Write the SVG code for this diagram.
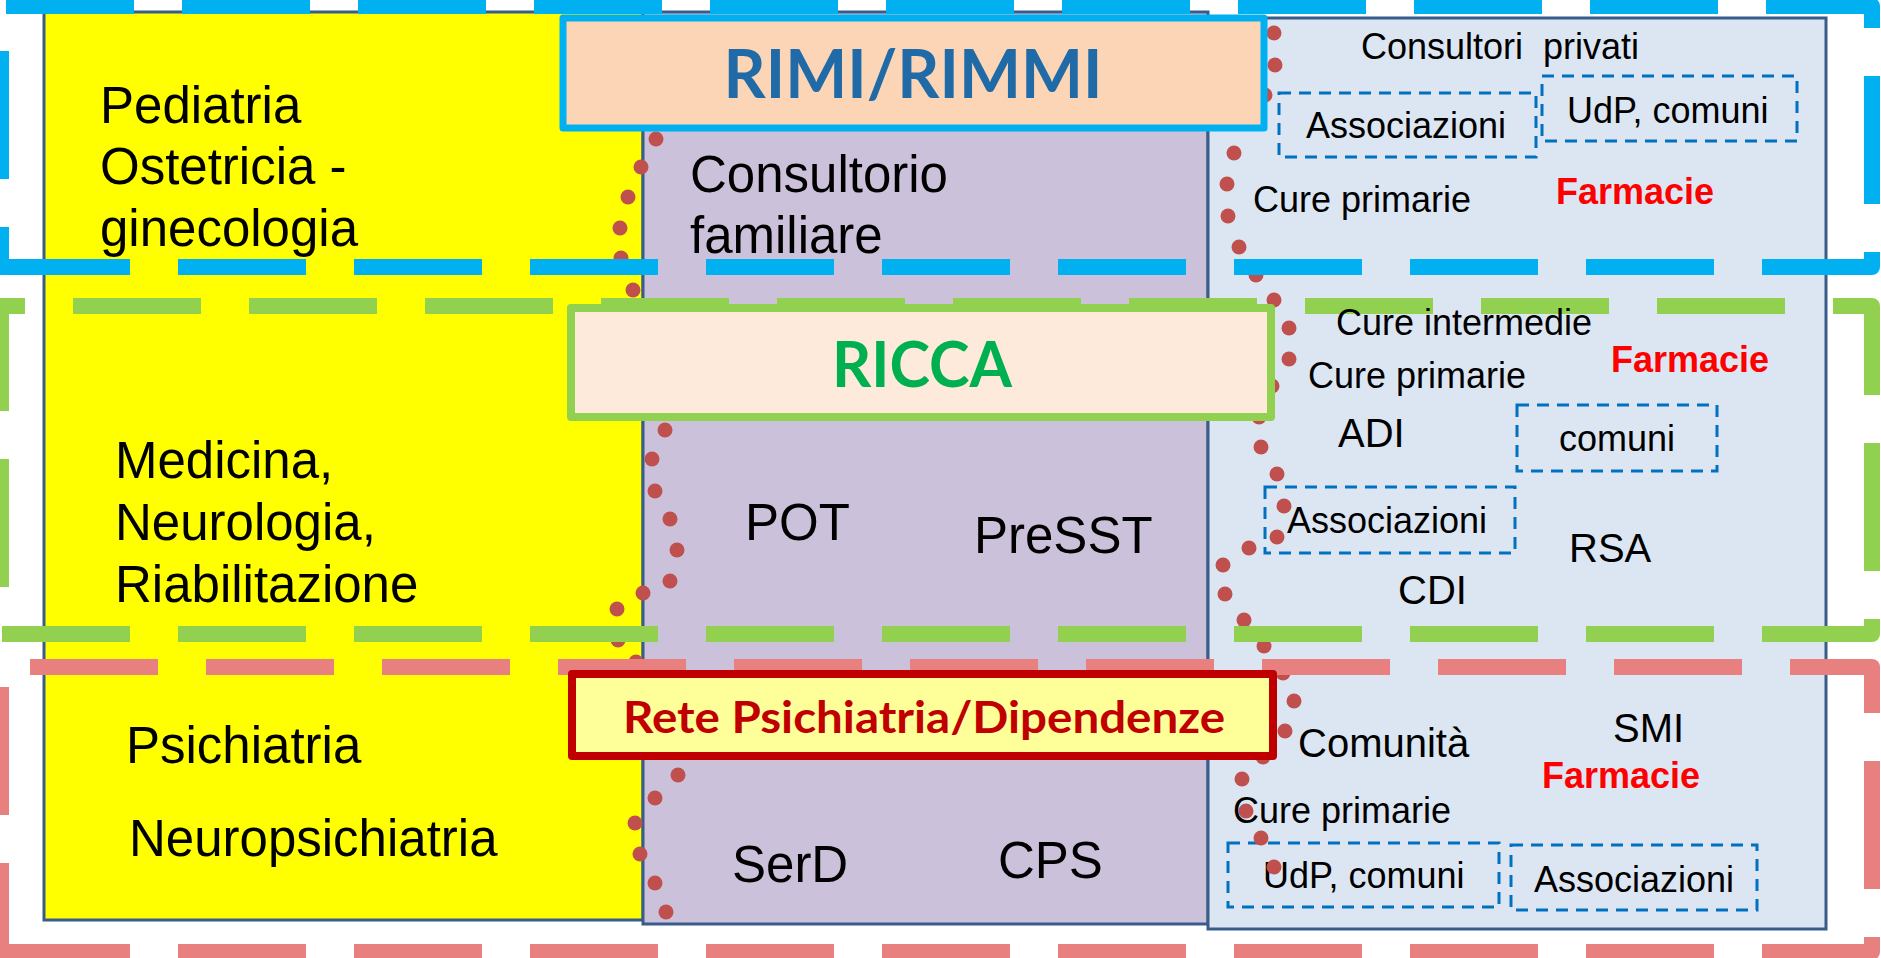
<svg xmlns="http://www.w3.org/2000/svg" width="1881" height="958" viewBox="0 0 1881 958">
<style>
.t{font-family:"Liberation Sans",Arial,sans-serif;fill:#000}
.b{font-size:51px}
.s{font-size:36px}
.m{font-size:40px}
.f{font-family:"Liberation Sans",Arial,sans-serif;font-weight:bold;font-size:36px;fill:#FF0000}
.ttl{font-family:Lato,"Open Sans",sans-serif;font-weight:bold;text-anchor:middle}
.col{stroke:#385D8A;stroke-width:3}
.dbox{fill:none;stroke:#0070C0;stroke-width:3;stroke-dasharray:12 8}
.dot{fill:#C0504D}
.ld{fill:none;stroke-width:16;stroke-dasharray:128 48}
.blue{stroke:#00B0F0}
.green{stroke:#92D050}
.pink{stroke:#E8807F}
</style>
<rect width="1881" height="958" fill="#FFFFFF"/>

<g id="col-ospedale">
<rect class="col" x="44" y="12" width="599" height="908" fill="#FFFF00"/>
<text class="t b" x="100" y="123">Pediatria</text>
<text class="t b" x="100" y="184">Ostetricia -</text>
<text class="t b" x="100" y="246">ginecologia</text>
<text class="t b" x="115" y="478">Medicina,</text>
<text class="t b" x="115" y="540">Neurologia,</text>
<text class="t b" x="115" y="602">Riabilitazione</text>
<text class="t b" x="126" y="763">Psichiatria</text>
<text class="t b" x="129" y="856">Neuropsichiatria</text>
</g>

<g id="col-territorio">
<rect class="col" x="643" y="12" width="565" height="912" fill="#CCC1DA"/>
<text class="t b" x="690" y="192">Consultorio</text>
<text class="t b" x="690" y="253">familiare</text>
<text class="t b" x="745" y="540">POT</text>
<text class="t b" x="974" y="553">PreSST</text>
<text class="t b" x="732" y="882">SerD</text>
<text class="t b" x="998" y="878">CPS</text>
</g>

<g id="col-rete-sociale">
<rect class="col" x="1208" y="18" width="618" height="911" fill="#DCE6F2"/>
<text class="t s" x="1361" y="59" xml:space="preserve">Consultori  privati</text>
<text class="t s" x="1253" y="212">Cure primarie</text>
<text class="f" x="1556" y="204">Farmacie</text>
<text class="t s" x="1308" y="388">Cure primarie</text>
<text class="f" x="1611" y="372">Farmacie</text>
<text class="t m" x="1338" y="447">ADI</text>
<text class="t m" x="1569" y="562">RSA</text>
<text class="t m" x="1398" y="604">CDI</text>
<text class="t m" x="1298" y="757">Comunità</text>
<text class="t m" x="1613" y="742">SMI</text>
<text class="f" x="1542" y="788">Farmacie</text>
<text class="t s" x="1233" y="823">Cure primarie</text>
</g>

<g id="box-associazioni-1">
<rect class="dbox" x="1279" y="93" width="257" height="64"/>
<text class="t s" x="1306" y="138">Associazioni</text>
</g>
<g id="box-udp-1">
<rect class="dbox" x="1542" y="76" width="255" height="65"/>
<text class="t s" x="1567" y="123">UdP, comuni</text>
</g>
<g id="box-comuni-2">
<rect class="dbox" x="1517" y="405" width="200" height="66"/>
<text class="t s" x="1559" y="451">comuni</text>
</g>
<g id="box-associazioni-2">
<rect class="dbox" x="1265" y="487" width="250" height="66"/>
<text class="t s" x="1287" y="533">Associazioni</text>
</g>
<g id="box-udp-3">
<rect class="dbox" x="1228" y="843" width="271" height="64"/>
<text class="t s" x="1263" y="888">UdP, comuni</text>
</g>
<g id="box-associazioni-3">
<rect class="dbox" x="1511" y="845" width="246" height="65"/>
<text class="t s" x="1534" y="892">Associazioni</text>
</g>

<g id="connectors">
<g id="dotted-left" class="dot">
<circle cx="656" cy="139" r="7.5"/><circle cx="641" cy="167" r="7.5"/><circle cx="628" cy="197" r="7.5"/><circle cx="620" cy="228" r="7.5"/><circle cx="621" cy="258" r="7.5"/><circle cx="633" cy="290" r="7.5"/>
<circle cx="665" cy="430" r="7.5"/><circle cx="652" cy="459" r="7.5"/><circle cx="655" cy="491" r="7.5"/><circle cx="670" cy="519" r="7.5"/><circle cx="677" cy="550" r="7.5"/><circle cx="670" cy="581" r="7.5"/><circle cx="643" cy="593" r="7.5"/><circle cx="617" cy="609" r="7.5"/><circle cx="618" cy="640" r="7.5"/><circle cx="636" cy="662" r="7.5"/>
<circle cx="678" cy="775" r="7.5"/><circle cx="655" cy="798" r="7.5"/><circle cx="635" cy="823" r="7.5"/><circle cx="640" cy="854" r="7.5"/><circle cx="655" cy="883" r="7.5"/><circle cx="666" cy="912" r="7.5"/>
</g>
<g id="dotted-right" class="dot">
<circle cx="1274" cy="33" r="7.5"/><circle cx="1275" cy="65" r="7.5"/><circle cx="1265" cy="95" r="7.5"/><circle cx="1234" cy="153" r="7.5"/><circle cx="1227" cy="184" r="7.5"/><circle cx="1228" cy="216" r="7.5"/><circle cx="1239" cy="247" r="7.5"/><circle cx="1256" cy="275" r="7.5"/><circle cx="1274" cy="300" r="7.5"/><circle cx="1289" cy="328" r="7.5"/><circle cx="1289" cy="359" r="7.5"/><circle cx="1272" cy="386" r="7.5"/><circle cx="1259" cy="417" r="7.5"/><circle cx="1261" cy="447" r="7.5"/><circle cx="1277" cy="474" r="7.5"/><circle cx="1284" cy="506" r="7.5"/><circle cx="1277" cy="537" r="7.5"/><circle cx="1249" cy="548" r="7.5"/><circle cx="1223" cy="565" r="7.5"/><circle cx="1225" cy="594" r="7.5"/><circle cx="1244" cy="620" r="7.5"/><circle cx="1264" cy="646" r="7.5"/><circle cx="1283" cy="673" r="7.5"/><circle cx="1294" cy="701" r="7.5"/><circle cx="1285" cy="731" r="7.5"/><circle cx="1263" cy="757" r="7.5"/><circle cx="1242" cy="779" r="7.5"/><circle cx="1246" cy="811" r="7.5"/><circle cx="1261" cy="838" r="7.5"/><circle cx="1274" cy="867" r="7.5"/>
</g>
</g>

<g id="region-rimi">
<path class="ld blue" d="M6 6H1872"/>
<path class="ld blue" d="M1872 6V267" stroke-dashoffset="106"/>
<path class="ld blue" d="M2 267H1872"/>
<path class="ld blue" d="M1 267V6" stroke-dashoffset="88"/>
<circle cx="1872" cy="6" r="8" fill="#00B0F0"/>
<circle cx="1872" cy="267" r="8" fill="#00B0F0"/>
<circle cx="1" cy="267" r="8" fill="#00B0F0"/>
</g>

<g id="region-ricca">
<path class="ld green" d="M1 306H1872" stroke-dashoffset="104"/>
<path class="ld green" d="M1872 306V634" stroke-dashoffset="39"/>
<path class="ld green" d="M2 634H1872"/>
<path class="ld green" d="M1 634V306" stroke-dashoffset="129"/>
<circle cx="1" cy="306" r="8" fill="#92D050"/>
<circle cx="1872" cy="306" r="8" fill="#92D050"/>
<circle cx="1872" cy="634" r="8" fill="#92D050"/>
</g>

<g id="region-psichiatria">
<path class="ld pink" d="M1 667H1872" stroke-dashoffset="147"/>
<path class="ld pink" d="M1872 667V952" stroke-dashoffset="82"/>
<path class="ld pink" d="M2 952H1872"/>
<path class="ld pink" d="M1 952V667" stroke-dashoffset="39"/>
<circle cx="1872" cy="667" r="8" fill="#E8807F"/>
<circle cx="1872" cy="952" r="8" fill="#E8807F"/>
<circle cx="1" cy="952" r="8" fill="#E8807F"/>
</g>

<g id="label-cure-intermedie">
<text class="t s" x="1336" y="335">Cure intermedie</text>
</g>

<g id="title-rimi">
<rect x="563" y="18" width="701" height="110" fill="#FBD5B5" stroke="#00B0F0" stroke-width="7" stroke-linejoin="round"/>
<text class="ttl" x="913" y="98" font-size="67" fill="#1F6AA7" textLength="379" lengthAdjust="spacingAndGlyphs">RIMI/RIMMI</text>
</g>

<g id="title-ricca">
<rect x="571" y="308" width="700" height="109" fill="#FDEADA" stroke="#92D050" stroke-width="8" stroke-linejoin="round"/>
<text class="ttl" x="922" y="387" font-size="64" fill="#00B050" textLength="180" lengthAdjust="spacingAndGlyphs">RICCA</text>
</g>

<g id="title-psichiatria">
<rect x="572" y="674" width="701" height="82" fill="#FFFF99" stroke="#C00000" stroke-width="8" stroke-linejoin="round"/>
<text class="ttl" x="924" y="733" font-size="43" fill="#C00000" textLength="602" lengthAdjust="spacingAndGlyphs">Rete Psichiatria/Dipendenze</text>
</g>
</svg>
